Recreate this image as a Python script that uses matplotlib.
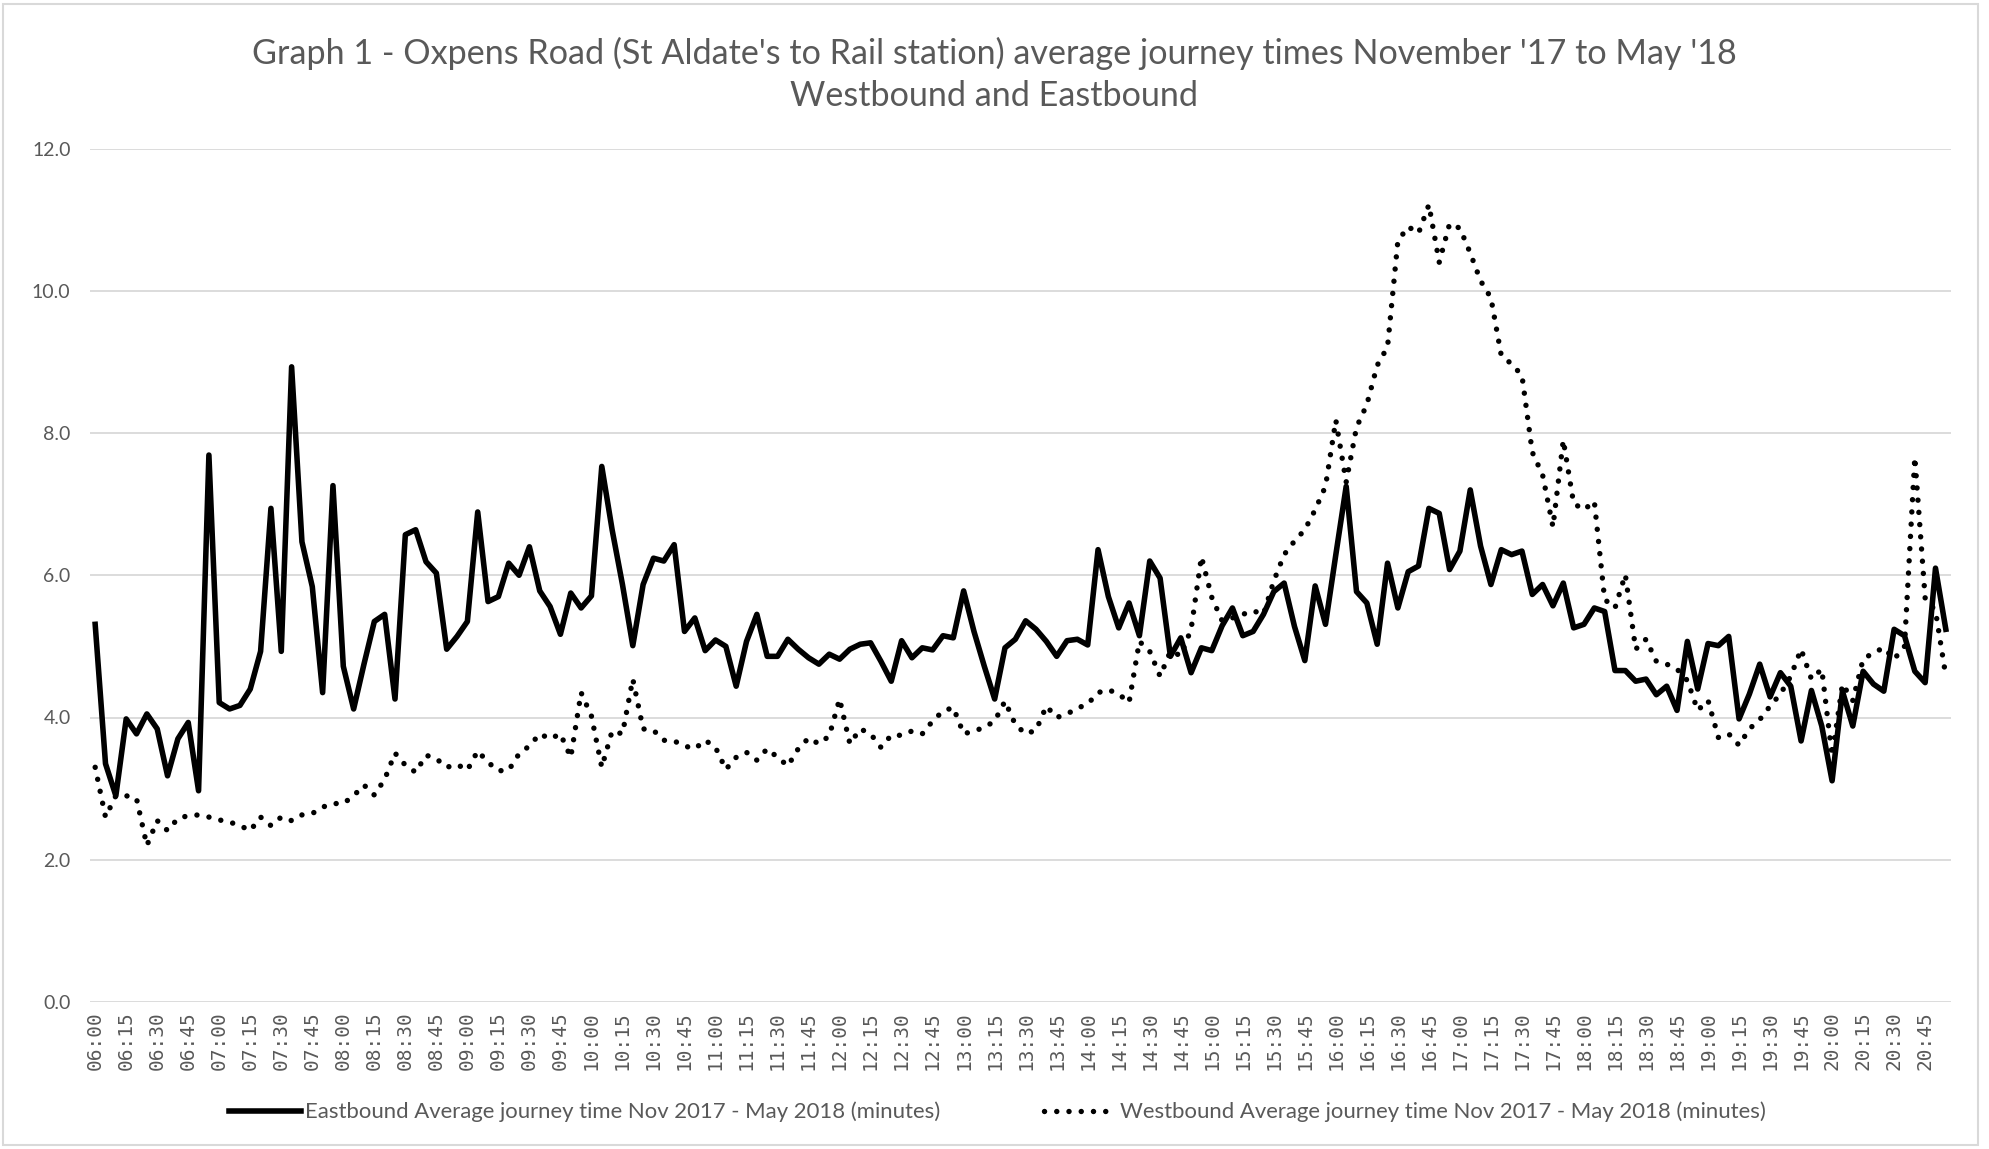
import matplotlib.pyplot as plt
from matplotlib.patches import Rectangle

plt.rcParams['font.family'] = ['Lato', 'DejaVu Sans']

# 5-minute categories 06:00 - 20:55
times = [f"{h:02d}:{m:02d}" for h in range(6, 21) for m in range(0, 60, 5)]

eastbound = [
    5.31, 3.35, 2.90, 3.98, 3.77, 4.05, 3.84, 3.18, 3.70, 3.93, 2.97, 7.69,
    4.21, 4.12, 4.17, 4.40, 4.93, 6.94, 4.93, 8.93, 6.47, 5.84, 4.35, 7.26,
    4.72, 4.12, 4.75, 5.35, 5.45, 4.26, 6.57, 6.64, 6.19, 6.03, 4.96, 5.14,
    5.35, 6.89, 5.63, 5.70, 6.17, 6.00, 6.40, 5.78, 5.56, 5.17, 5.75, 5.54,
    5.71, 7.53, 6.64, 5.87, 5.01, 5.87, 6.24, 6.20, 6.43, 5.21, 5.40, 4.94,
    5.09, 5.00, 4.44, 5.07, 5.45, 4.86, 4.86, 5.10, 4.96, 4.84, 4.75, 4.89,
    4.82, 4.96, 5.03, 5.05, 4.79, 4.51, 5.08, 4.84, 4.98, 4.95, 5.15, 5.12,
    5.78, 5.21, 4.72, 4.26, 4.98, 5.10, 5.36, 5.24, 5.07, 4.86, 5.08, 5.10,
    5.02, 6.36, 5.70, 5.26, 5.61, 5.15, 6.20, 5.96, 4.86, 5.12, 4.63, 4.98,
    4.94, 5.29, 5.54, 5.15, 5.21, 5.45, 5.77, 5.89, 5.28, 4.80, 5.85, 5.31,
    6.29, 7.25, 5.77, 5.61, 5.03, 6.17, 5.54, 6.05, 6.13, 6.94, 6.87, 6.08,
    6.34, 7.20, 6.41, 5.87, 6.36, 6.29, 6.34, 5.73, 5.87, 5.57, 5.89, 5.26,
    5.31, 5.54, 5.49, 4.66, 4.66, 4.51, 4.54, 4.32, 4.44, 4.10, 5.07, 4.40,
    5.04, 5.01, 5.14, 3.98, 4.33, 4.75, 4.29, 4.63, 4.44, 3.67, 4.38, 3.88,
    3.11, 4.37, 3.88, 4.65, 4.47, 4.37, 5.24, 5.15, 4.65, 4.49, 6.10, 5.24,
]

westbound = [
    3.30, 2.60, 2.90, 2.90, 2.86, 2.20, 2.55, 2.41, 2.58, 2.62, 2.63, 2.60,
    2.56, 2.53, 2.48, 2.41, 2.60, 2.48, 2.60, 2.55, 2.63, 2.65, 2.74, 2.79,
    2.79, 2.90, 3.05, 2.91, 3.13, 3.50, 3.33, 3.23, 3.47, 3.42, 3.30, 3.34,
    3.26, 3.53, 3.37, 3.25, 3.26, 3.49, 3.60, 3.77, 3.70, 3.77, 3.44, 4.35,
    4.02, 3.30, 3.81, 3.77, 4.54, 3.84, 3.82, 3.68, 3.67, 3.60, 3.56, 3.68,
    3.58, 3.27, 3.44, 3.51, 3.40, 3.56, 3.44, 3.32, 3.56, 3.71, 3.63, 3.74,
    4.26, 3.63, 3.84, 3.77, 3.58, 3.75, 3.75, 3.81, 3.77, 3.95, 4.09, 4.14,
    3.77, 3.81, 3.86, 3.95, 4.23, 3.90, 3.77, 3.82, 4.16, 4.00, 4.05, 4.13,
    4.19, 4.35, 4.39, 4.33, 4.21, 5.07, 4.93, 4.58, 4.93, 4.87, 5.24, 6.26,
    5.69, 5.36, 5.40, 5.45, 5.50, 5.45, 5.92, 6.29, 6.48, 6.64, 6.92, 7.25,
    8.18, 7.31, 8.08, 8.40, 8.95, 9.21, 10.70, 10.90, 10.81, 11.21, 10.40, 10.94,
    10.88, 10.53, 10.14, 9.90, 9.09, 8.97, 8.81, 7.73, 7.41, 6.68, 7.90, 7.01,
    6.92, 7.04, 5.66, 5.54, 6.01, 4.96, 5.10, 4.79, 4.75, 4.68, 4.52, 4.10,
    4.24, 3.72, 3.77, 3.61, 3.84, 3.97, 4.16, 4.33, 4.58, 4.96, 4.54, 4.68,
    3.46, 4.47, 4.24, 4.82, 4.91, 4.98, 4.82, 5.00, 7.66, 5.68, 5.50, 4.58,
]

title1 = "Graph 1 - Oxpens Road (St Aldate's to Rail station) average journey times November '17 to May '18"
title2 = "Westbound and Eastbound"
east_label = "Eastbound Average journey time Nov 2017 - May 2018 (minutes)"
west_label = "Westbound Average journey time Nov 2017 - May 2018 (minutes)"

W, H = 1989, 1149
grey = '#595959'

fig = plt.figure(figsize=(W / 100, H / 100), dpi=100)
ax = fig.add_axes([90 / W, 1 - 1002 / H, (1951 - 90) / W, (1002 - 148.5) / H])

x = list(range(len(times)))
ax.plot(x, eastbound, color='black', lw=4, label=east_label)
ax.plot(x, westbound, color='black', lw=3.9, linestyle=(0, (0.01, 2.25)),
        dash_capstyle='round', label=west_label)

ax.set_xlim(-0.5, len(times) - 0.5)
ax.set_ylim(0, 12)
yt = [0, 2, 4, 6, 8, 10, 12]
ax.set_yticks(yt)
ax.set_yticklabels([f"{v:.1f}" for v in yt], fontsize=14, color=grey)
ax.set_xticks(x[::3])
ax.set_xticklabels(times[::3], rotation=90, fontsize=14, color=grey,
                   family='DejaVu Sans Mono')
ax.tick_params(axis='both', length=0)
ax.tick_params(axis='y', pad=14)
ax.tick_params(axis='x', pad=7)
ax.yaxis.grid(True, color='#d9d9d9', lw=1.3)
ax.set_axisbelow(True)
for s in ax.spines.values():
    s.set_visible(False)

fig.text(0.5, 1 - 53 / H, title1, ha='center', va='center', fontsize=24.6, color=grey)
fig.text(0.5, 1 - 96 / H, title2, ha='center', va='center', fontsize=24.6, color=grey)

ax.legend(loc='center', bbox_to_anchor=(0.5015, 1 - 1112 / H), bbox_transform=fig.transFigure,
          ncol=2, frameon=False, fontsize=15.9, handlelength=3.25, handletextpad=0.2,
          columnspacing=4.7, labelcolor=grey)

fig.patches.append(Rectangle((3 / W, 4 / H), 1975 / W, 1141 / H, transform=fig.transFigure,
                             fill=False, edgecolor='#d9d9d9', lw=1.5))

fig.savefig('out.png', dpi=100)
